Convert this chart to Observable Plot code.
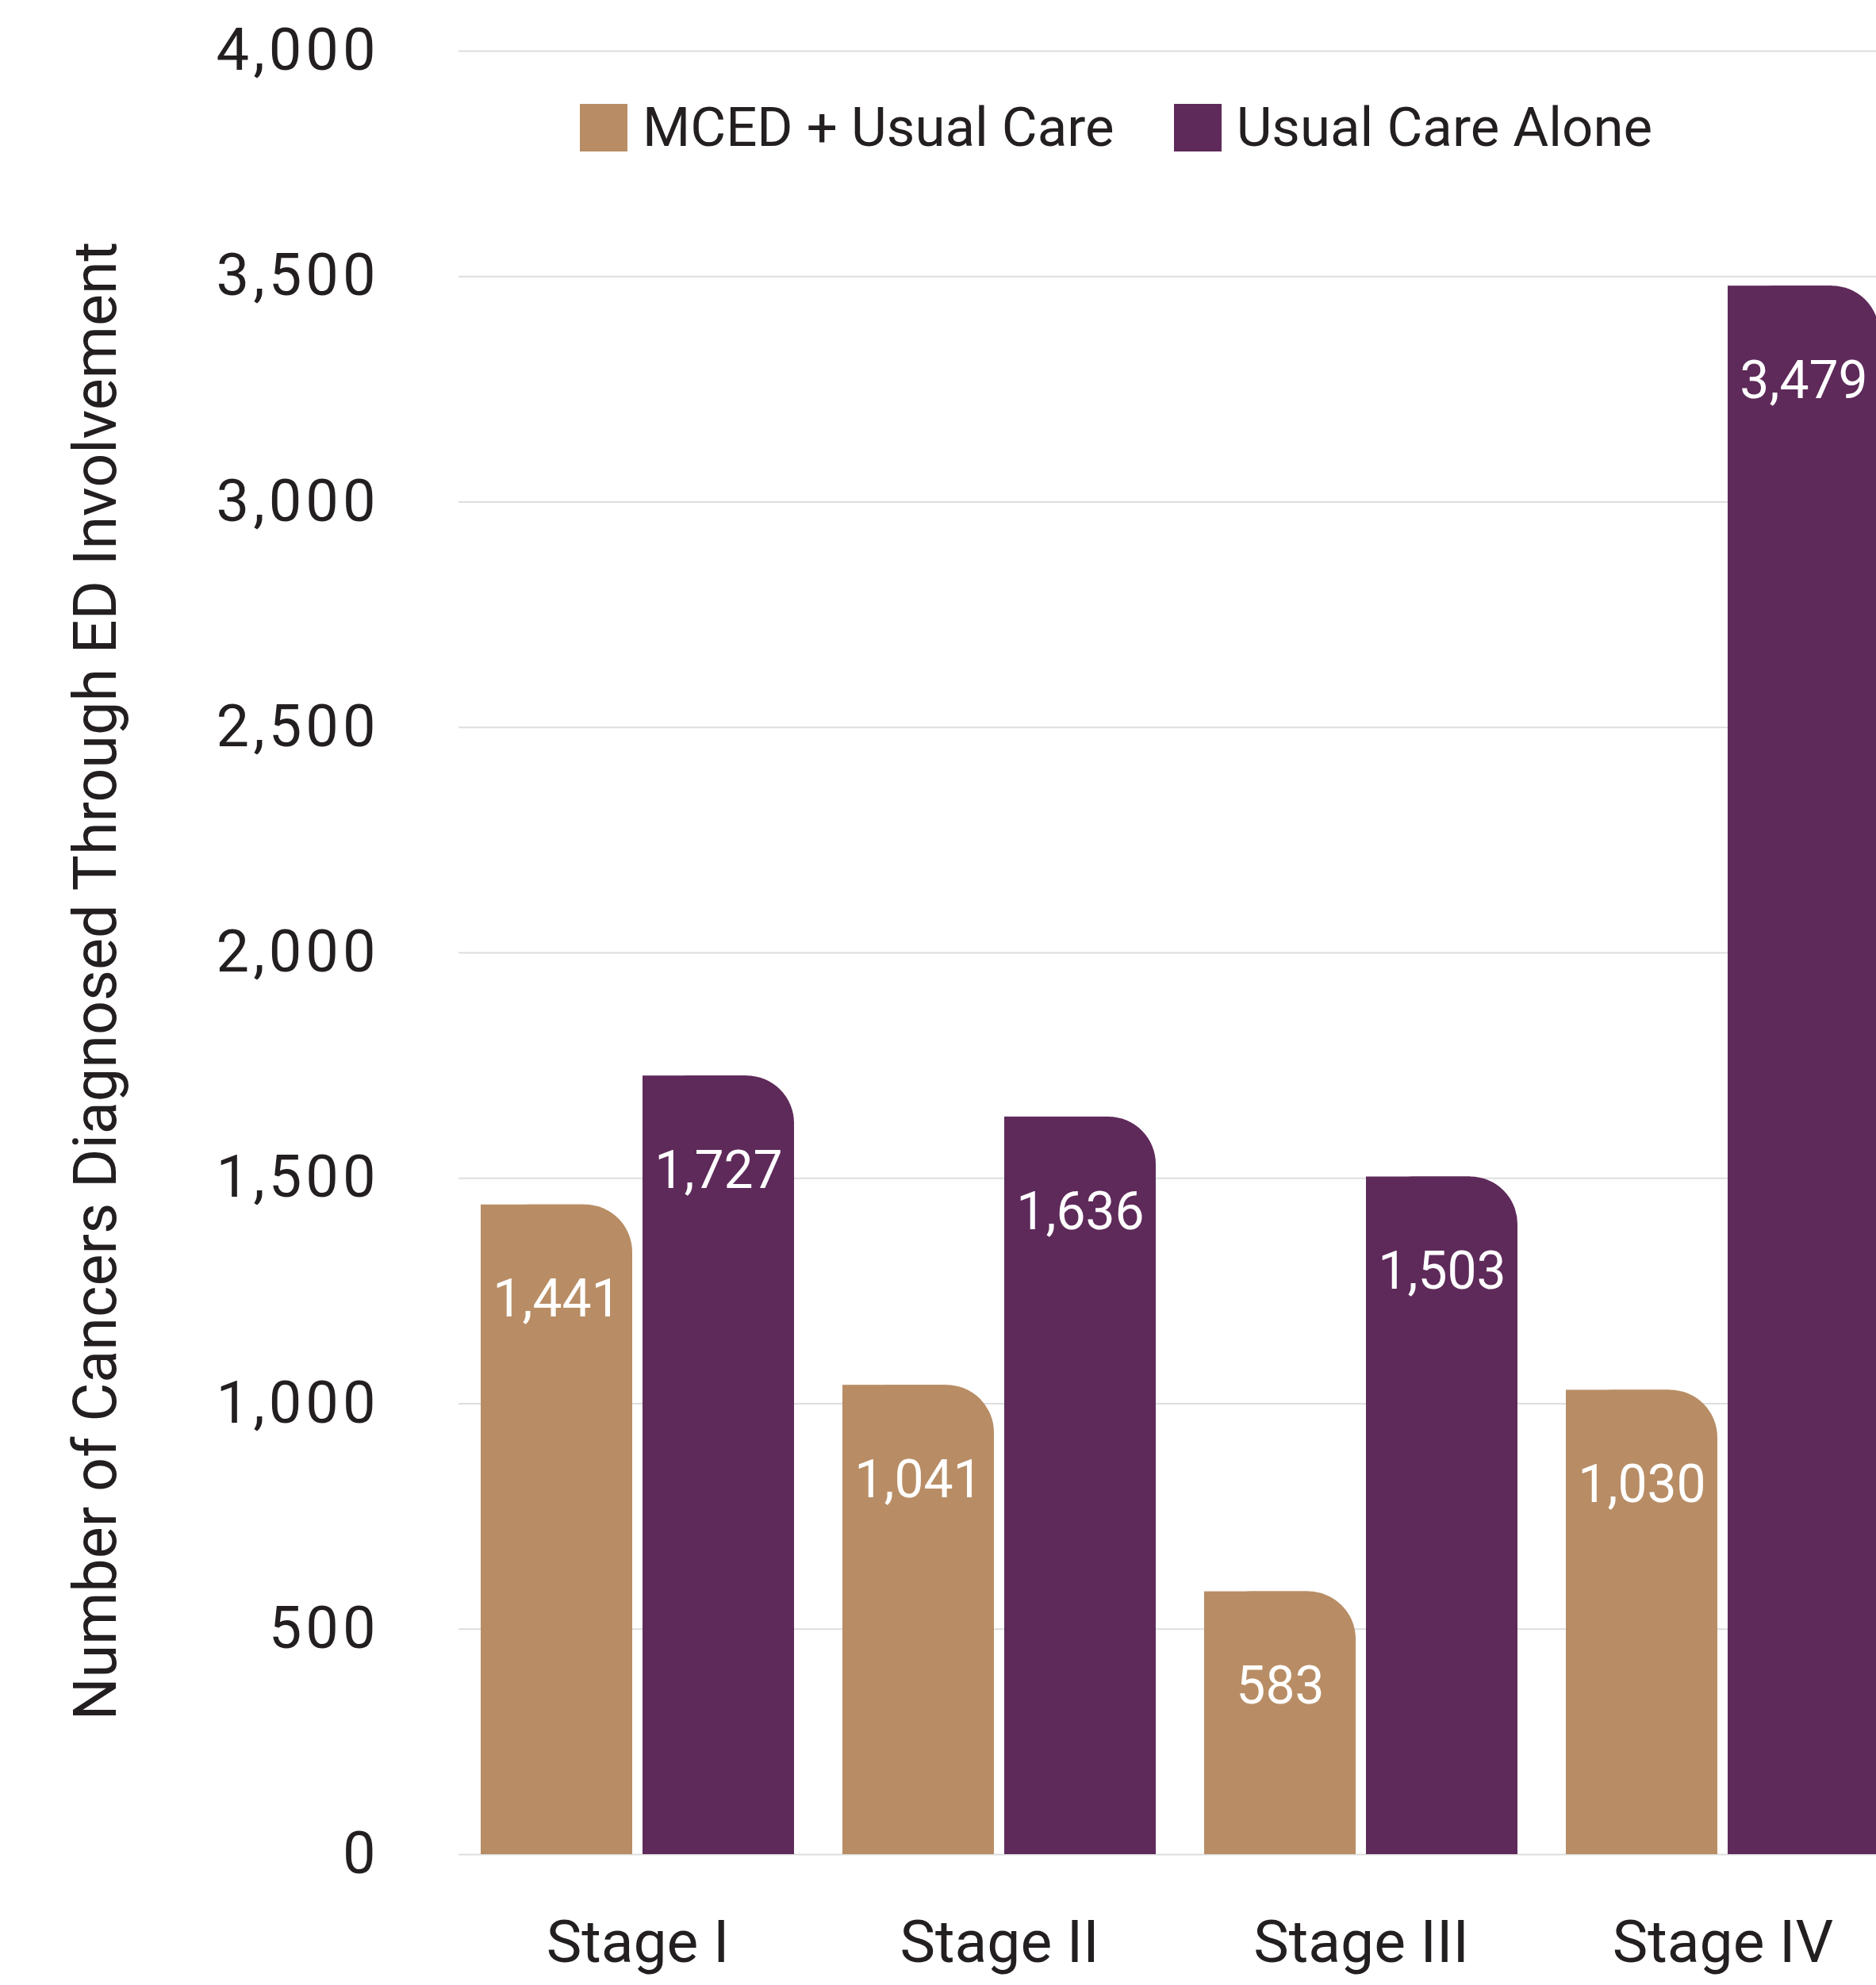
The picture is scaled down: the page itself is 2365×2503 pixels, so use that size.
<!DOCTYPE html>
<html>
<head>
<meta charset="utf-8">
<script src="https://cdn.jsdelivr.net/npm/d3@7"></script>
<script src="https://cdn.jsdelivr.net/npm/@observablehq/plot@0.6"></script>
<style>
  html, body { margin: 0; padding: 0; background: #fff; overflow: hidden; }
  #chart { position: relative; width: 2365px; height: 2503px; overflow: hidden; font-family: Roboto, sans-serif; color: #231f20; }
  #chart svg { display: block; overflow: hidden; }
  .legend { position: absolute; left: 731px; top: 131px; display: flex; align-items: center; font-size: 69px; line-height: 60px; white-space: nowrap; }
  .legend .item { display: flex; align-items: center; margin-right: 75px; }
  .legend .sw { width: 60px; height: 60px; margin-right: 19px; flex: none; }
</style>
</head>
<body>
<div id="chart"></div>
<script>
// Cancers diagnosed through emergency-department involvement, by stage
const stages = ["Stage I", "Stage II", "Stage III", "Stage IV"];
const series = ["MCED + Usual Care", "Usual Care Alone"];
const mcedUsualCare = [1441, 1041, 583, 1030];
const usualCareAlone = [1727, 1636, 1503, 3479];
const seriesColors = ["#b88d65", "#5e2a5a"];
const yTicks = [0, 500, 1000, 1500, 2000, 2500, 3000, 3500, 4000];
const yTitle = "Number of Cancers Diagnosed Through ED Involvement";

const rows = stages.flatMap((stage, i) => [
  {stage, series: series[0], value: mcedUsualCare[i]},
  {stage, series: series[1], value: usualCareAlone[i]}
]);
const mced = rows.filter(d => d.series === series[0]);
const usual = rows.filter(d => d.series === series[1]);

// Each stage band holds two bars side by side
const barW = 191, gap = 13, corner = 60;
const side = barW + gap;

// A bar with only its top-right corner rounded: a fully rounded rect,
// plus square rects covering the bottom and the left side.
function roundedBar(data, insetLeft, insetRight) {
  const base = {x: "stage", y: "value", fill: "series", insetLeft, insetRight};
  return [
    Plot.barY(data, {...base, rx: corner}),
    Plot.barY(data, {...base, insetTop: corner}),
    Plot.barY(data, {...base, insetRight: insetRight + corner})
  ];
}

const fmt = d3.format(",");
const labelOpts = {x: "stage", y: "value", text: d => fmt(d.value), fill: "white", fontSize: 66, dy: 120};

const plot = Plot.plot({
  width: 2365,
  height: 2503,
  marginLeft: 578,
  marginRight: 0,
  marginTop: 64,
  marginBottom: 165,
  style: {fontFamily: "Roboto, sans-serif", color: "#231f20", background: "#fff"},
  x: {domain: stages, range: [578, 2396], paddingInner: 0.1338, paddingOuter: 0.0603},
  y: {domain: [0, 4000]},
  color: {domain: series, range: seriesColors},
  marks: [
    Plot.ruleY(yTicks, {stroke: "#dedede", strokeWidth: 2}),
    ...roundedBar(mced, 0, side),
    ...roundedBar(usual, side, 0),
    Plot.text(mced, {...labelOpts, dx: -102}),
    Plot.text(usual, {...labelOpts, dx: 102}),
    Plot.axisY(yTicks, {tickSize: 0, tickPadding: 100, tickFormat: fmt, fontSize: 74, label: null}),
    Plot.axisX({tickSize: 0, tickPadding: 82, fontSize: 75, label: null})
  ]
});

// Slightly wider spacing for the y tick numerals
d3.select(plot).selectAll('g[aria-label="y-axis tick label"] text').style("letter-spacing", "5px");

d3.select(plot).append("text")
  .attr("transform", "translate(146,1237) rotate(-90)")
  .attr("text-anchor", "middle")
  .attr("font-size", 75.5)
  .attr("fill", "#231f20")
  .text(yTitle);

const chart = document.getElementById("chart");
chart.appendChild(plot);

// Legend laid over the top of the plot area
const legend = d3.select(chart).append("div").attr("class", "legend");
const items = legend.selectAll(".item").data(series).join("div").attr("class", "item");
items.append("div").attr("class", "sw").style("background", (d, i) => seriesColors[i]);
items.append("span").text(d => d);
</script>
</body>
</html>
